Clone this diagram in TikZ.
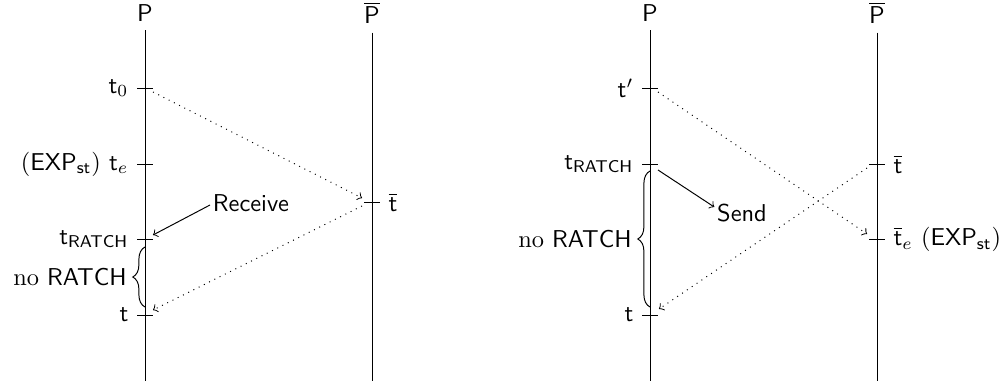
\documentclass[tikz,border=0pt]{standalone}
\usetikzlibrary{decorations.pathreplacing}
\begin{document}
\begin{tikzpicture}[x=0.41pt,y=-0.41pt,
  life/.style={line width=0.4pt},
  tickmark/.style={line width=0.4pt},
  msg/.style={dotted,->},
  note/.style={->},
  lbl/.style={inner sep=1pt},
  bracebox/.style={decorate,decoration={brace,amplitude=5pt}}]
\useasboundingbox (0,0) rectangle (1006,387);
% ---------------- left diagram ----------------
\node (P1) at (145,13) {$\mathsf{P}$};
\node (Q1) at (372,13) {$\overline{\mathsf{P}}$};
\coordinate (P1end) at (145,381);
\coordinate (Q1end) at (372,381);
\draw[life] (P1) -- (P1end);
\draw[life] (Q1) -- (Q1end);
\coordinate (a0) at (145,88);
\coordinate (ae) at (145,164);
\coordinate (ar) at (145,239);
\coordinate (at) at (145,315);
\coordinate (ab) at (372,202);
\foreach \c in {a0,ae,ar,at,ab}
  \draw[tickmark] ([shift={(-8,0)}]\c) -- ([shift={(8,0)}]\c);
\node[anchor=east] (a0l) at ([shift={(-8,0)}]a0) {$\mathsf{t}_0$};
\node[anchor=east] (ael) at ([shift={(-8,0)}]ae) {$(\mathsf{EXP}_{\mathsf{st}})$ $\mathsf{t}_e$};
\node[anchor=east] (arl) at ([shift={(-8,0)}]ar) {$\mathsf{t}_{\mathsf{RATCH}}$};
\node[anchor=east] (atl) at ([shift={(-8,0)}]at) {$\mathsf{t}$};
\node[anchor=west] (abl) at ([shift={(8,0)}]ab) {$\overline{\mathsf{t}}$};
\draw[msg] ([shift={(8,4)}]a0) -- ([shift={(-10,-4)}]ab);
\draw[msg] ([shift={(-10,4)}]ab) -- ([shift={(8,-5)}]at);
\node[lbl] (recv) at (251,203) {\textsf{Receive}};
\draw[note] ([shift={(0,2)}]recv.west) -- ([shift={(8,-4)}]ar);
\coordinate (b1s) at (145,307);
\coordinate (b1e) at (145,247);
\draw[bracebox] (b1s) -- node[left=4pt] (n1) {no \textsf{RATCH}} (b1e);
% ---------------- right diagram ----------------
\node (P2) at (650,13) {$\mathsf{P}$};
\node (Q2) at (877,13) {$\overline{\mathsf{P}}$};
\coordinate (P2end) at (650,381);
\coordinate (Q2end) at (877,381);
\draw[life] (P2) -- (P2end);
\draw[life] (Q2) -- (Q2end);
\coordinate (c0) at (650,88);
\coordinate (cr) at (650,164);
\coordinate (ct) at (650,315);
\coordinate (cb) at (877,164);
\coordinate (ce) at (877,239);
\foreach \c in {c0,cr,ct,cb,ce}
  \draw[tickmark] ([shift={(-8,0)}]\c) -- ([shift={(8,0)}]\c);
\node[anchor=east] (c0l) at ([shift={(-8,0)}]c0) {$\mathsf{t}'$};
\node[anchor=east] (crl) at ([shift={(-8,0)}]cr) {$\mathsf{t}_{\mathsf{RATCH}}$};
\node[anchor=east] (ctl) at ([shift={(-8,0)}]ct) {$\mathsf{t}$};
\node[anchor=west] (cbl) at ([shift={(8,0)}]cb) {$\overline{\mathsf{t}}$};
\node[anchor=west] (cel) at ([shift={(8,0)}]ce) {$\overline{\mathsf{t}}_e$ $(\mathsf{EXP}_{\mathsf{st}})$};
\draw[msg] ([shift={(8,4)}]c0) -- ([shift={(-10,-5)}]ce);
\draw[msg] ([shift={(-10,4)}]cb) -- ([shift={(9,-6)}]ct);
\node[lbl] (send) at (742,213) {\textsf{Send}};
\draw[note] ([shift={(8,6)}]cr) -- ([shift={(0,-6)}]send.west);
\coordinate (b2s) at (650,307);
\coordinate (b2e) at (650,171);
\draw[bracebox] (b2s) -- node[left=4pt] (n2) {no \textsf{RATCH}} (b2e);
\end{tikzpicture}
\end{document}
